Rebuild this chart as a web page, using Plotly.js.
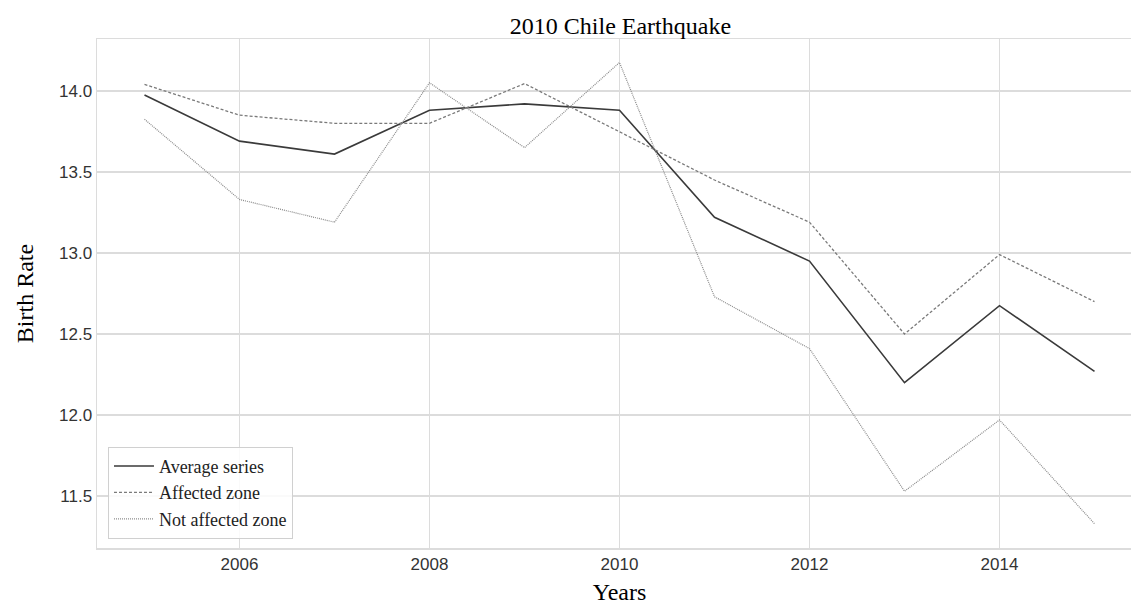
<!DOCTYPE html>
<html>
<head>
<meta charset="utf-8">
<script src="https://cdn.plot.ly/plotly-3.0.1.min.js"></script>
<style>
html,body{margin:0;padding:0;overflow:hidden;background:#fff;width:1131px;height:605px;}
#wrap{width:1131px;height:605px;overflow:hidden;position:relative;}
#chart{width:1150px;height:605px;position:absolute;left:0;top:0;}
</style>
</head>
<body>
<div id="wrap"><div id="chart"></div></div>
<script>
const years = [2005, 2006, 2007, 2008, 2009, 2010, 2011, 2012, 2013, 2014, 2015];
const averageSeries = [13.975, 13.69, 13.61, 13.88, 13.92, 13.88, 13.22, 12.95, 12.20, 12.675, 12.27];
const affectedZone = [14.04, 13.85, 13.80, 13.80, 14.045, 13.75, 13.45, 13.19, 12.50, 12.99, 12.70];
const notAffectedZone = [13.825, 13.33, 13.19, 14.05, 13.65, 14.175, 12.73, 12.41, 11.53, 11.97, 11.33];
const seriesNames = ["Average series", "Affected zone", "Not affected zone"];
const xTicks = [2006, 2008, 2010, 2012, 2014];
const yTicks = [11.5, 12.0, 12.5, 13.0, 13.5, 14.0];

const traces = [
  {x: years, y: averageSeries, name: seriesNames[0], type: "scatter", mode: "lines",
   line: {color: "#3a3a3a", width: 1.6, dash: "solid"}},
  {x: years, y: affectedZone, name: seriesNames[1], type: "scatter", mode: "lines",
   line: {color: "#7a7a7a", width: 1.3, dash: "3px,2px"}},
  {x: years, y: notAffectedZone, name: seriesNames[2], type: "scatter", mode: "lines",
   line: {color: "#8a8a8a", width: 1.2, dash: "1px,1px"}}
];

const serif = "Liberation Serif, Times New Roman, serif";
const sans = "Liberation Sans, Arial, sans-serif";

const layout = {
  width: 1150, height: 605,
  margin: {l: 97, r: 8, t: 39, b: 57},
  paper_bgcolor: "#ffffff", plot_bgcolor: "#ffffff",
  title: {text: "2010 Chile Earthquake", font: {family: serif, size: 24, color: "#000"},
          x: 0.5395, xref: "container", xanchor: "center", y: 0.958, yref: "container", yanchor: "middle"},
  xaxis: {
    range: [2004.5, 2015.5], tickvals: xTicks, ticktext: xTicks.map(String),
    showgrid: true, gridcolor: "#dcdcdc", gridwidth: 1.5,
    showline: true, linecolor: "#dcdcdc", linewidth: 1.5, mirror: true,
    zeroline: false, ticks: "", ticklen: 0, automargin: false,
    tickfont: {family: sans, size: 17, color: "#333"},
    title: {text: "Years", font: {family: serif, size: 24, color: "#000"}, standoff: 10}
  },
  yaxis: {
    range: [11.18, 14.32], tickvals: yTicks, ticktext: yTicks.map(v => v.toFixed(1)),
    showgrid: true, gridcolor: "#dcdcdc", gridwidth: 1.5,
    showline: true, linecolor: "#dcdcdc", linewidth: 1.5, mirror: false,
    zeroline: false, ticks: "", ticklen: 0, automargin: false,
    tickfont: {family: sans, size: 17, color: "#333"},
    title: {text: "Birth Rate", font: {family: serif, size: 24, color: "#000"}, standoff: 18}
  },
  legend: {
    x: 0.0105, y: 0.018, xanchor: "left", yanchor: "bottom",
    bgcolor: "rgba(255,255,255,0.85)", bordercolor: "#d0d0d0", borderwidth: 1,
    font: {family: serif, size: 18, color: "#222"},
    tracegroupgap: 0, itemwidth: 40
  },
  showlegend: true
};

Plotly.newPlot("chart", traces, layout, {displayModeBar: false, staticPlot: true});
</script>
</body>
</html>
